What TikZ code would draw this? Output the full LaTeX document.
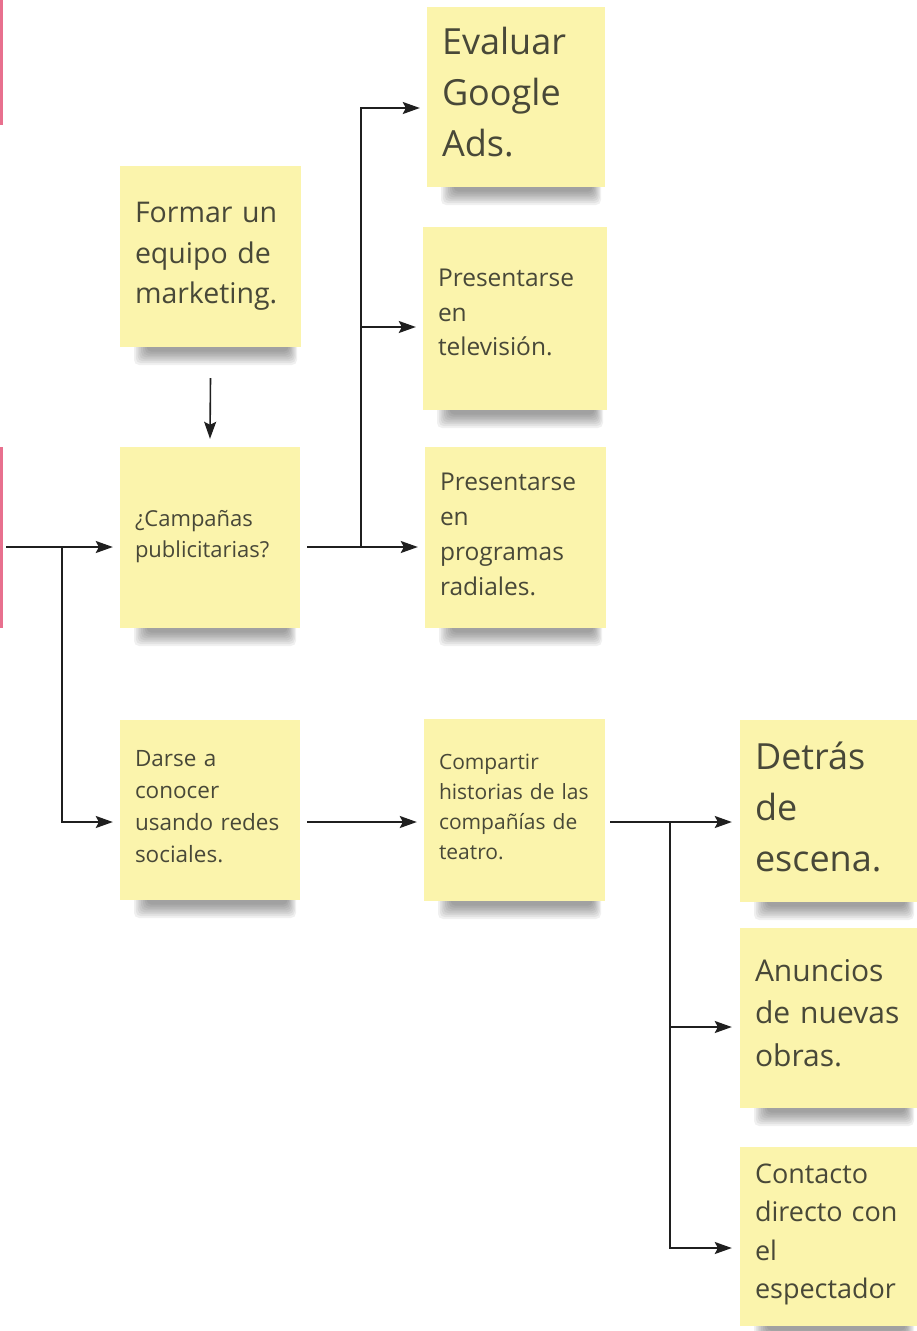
\documentclass[tikz,border=0pt]{standalone}
\usepackage{fontspec}
\setmainfont{Open Sans}
\usetikzlibrary{arrows.meta,calc}
\definecolor{sticky}{RGB}{251,244,172}
\definecolor{stext}{RGB}{72,72,56}
\definecolor{pinkbar}{RGB}{232,112,142}
\definecolor{shadowc}{RGB}{40,40,40}
\tikzset{
  pinkstrip/.style={fill=pinkbar, draw=none, minimum width=2.5pt, inner sep=0pt},
  note/.style={fill=sticky, draw=none, inner sep=0pt},
  notetext/.style={inner sep=0pt, align=left, text=stext},
  conn/.style={draw=black!88, line width=1.6pt},
  arr/.style={conn, -{Stealth[length=17pt,width=12pt,inset=3pt]}}
}
% name, x0, y0, x1, y1, font size, text, text shift (pt, positive = up)
\newcommand\stickynote[8]{%
  \pgfmathsetmacro\nw{#4-#2}%
  \pgfmathsetmacro\nh{#5-#3}%
  \pgfmathsetmacro\tw{#4-#2-30}%
  \pgfmathsetmacro\bl{#6*1.42}%
  \foreach \k in {0,...,7}{%
    \fill[shadowc, opacity=0.065, rounded corners=5pt]
      ({#2+14+1.8*\k},{#5-8}) rectangle ({#4-4-1.2*\k},{#5+18-1.9*\k});
  }%
  \node[note, minimum width=\nw pt, minimum height=\nh pt] (#1) at ({(#2+#4)/2},{(#3+#5)/2}) {};
  \node[notetext, text width=\tw pt, font=\fontsize{#6pt}{\bl pt}\selectfont]
    (#1t) at ([yshift=#8pt]#1.center) {#7};
}
\begin{document}
\begin{tikzpicture}[x=1pt,y=-1pt]
\useasboundingbox (0,0) rectangle (916,1331);
\fill[white] (0,0) rectangle (916,1331);

% pink strips at the left edge
\node[pinkstrip, minimum height=125pt] (p1) at (1.25,62.5) {};
\node[pinkstrip, minimum height=181pt] (p2) at (1.25,537.5) {};

% sticky notes
\stickynote{n1}{427}{7}{605}{187}{36}{Evaluar\\Google\\Ads.}{5}
\stickynote{n2}{120}{166}{301}{347}{28.5}{Formar un\\equipo de\\marketing.}{0}
\stickynote{n3}{423}{227}{607}{410}{24.5}{Presentarse\\en\\televisión.}{6}
\stickynote{n4}{120}{447}{300}{628}{22}{¿Campañas\\publicitarias?}{1}
\stickynote{n5}{425}{447}{606}{628}{24.5}{Presentarse\\en\\programas\\radiales.}{3}
\stickynote{n6}{120}{720}{300}{900}{22.5}{Darse a\\conocer\\usando redes\\sociales.}{3}
\stickynote{n7}{424}{719}{605}{901}{21}{Compartir\\historias de las\\compañías de\\teatro.}{3}
\stickynote{n8}{740}{720}{918}{902}{36}{Detrás\\de\\escena.}{4}
\stickynote{n9}{740}{928}{918}{1108}{30}{Anuncios\\de nuevas\\obras.}{5}
\stickynote{n10}{740}{1147}{918}{1326}{27}{Contacto\\directo con\\el\\espectador}{2}

% connector rows
\coordinate (cA) at (0,108);
\coordinate (cB) at (0,327);
\coordinate (cC) at (0,547);
\coordinate (cD) at (0,822);
\coordinate (cE) at (0,1027);
\coordinate (cF) at (0,1248);
\coordinate (s0) at (6,547);
\coordinate (j1) at (62,547);
\coordinate (j2) at (361,547);
\coordinate (j3) at (670,822);

% connectors
\draw[arr] (s0) -- ([xshift=-7pt]n4.west |- cC);
\draw[arr] (j1) |- ([xshift=-7pt]n6.west |- cD);
\draw[arr] ([yshift=-31pt]n2.south) -- ([yshift=8pt]n4.north);
\draw[conn] ([xshift=7pt]n4.east |- cC) -- (j2);
\draw[arr] (j2) -- ([xshift=-7pt]n5.west |- cC);
\draw[arr] (j2) |- ([xshift=-7pt]n1.west |- cA);
\draw[arr] (j2 |- cB) -- ([xshift=-7pt]n3.west |- cB);
\draw[arr] ([xshift=7pt]n6.east |- cD) -- ([xshift=-7pt]n7.west |- cD);
\draw[conn] ([xshift=5pt]n7.east |- cD) -- (j3);
\draw[arr] (j3) -- ([xshift=-8pt]n8.west |- cD);
\draw[arr] (j3) |- ([xshift=-8pt]n9.west |- cE);
\draw[arr] (j3) |- ([xshift=-8pt]n10.west |- cF);
\end{tikzpicture}
\end{document}
